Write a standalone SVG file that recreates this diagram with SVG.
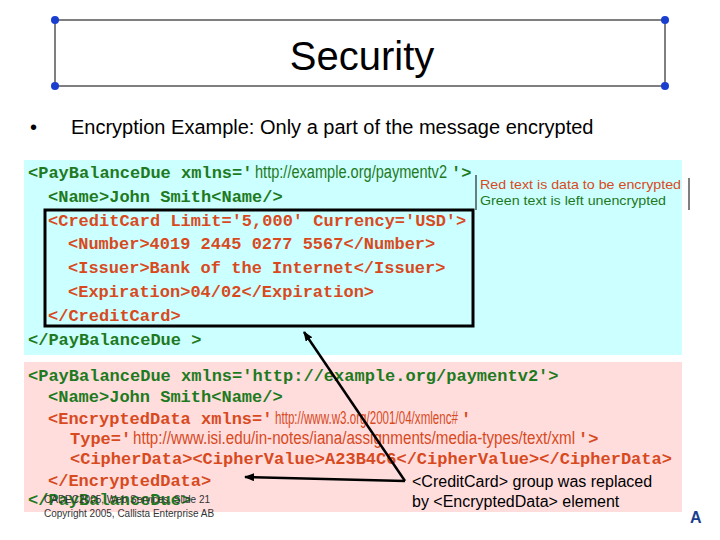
<svg xmlns="http://www.w3.org/2000/svg" width="720" height="540" viewBox="0 0 720 540">
<style>
.m{font-family:"Liberation Mono",monospace;font-weight:bold;font-size:17px}
.s{font-family:"Liberation Sans",Arial,sans-serif}
.u{font-family:"Liberation Sans",Arial,sans-serif;font-size:18px}
.g{fill:#1e7a1e}.r{fill:#d84a1e}
.dot{fill:#1a3fd0}
</style>
<defs><marker id="ah" markerWidth="10" markerHeight="8" refX="9" refY="4" orient="auto" markerUnits="userSpaceOnUse"><path d="M0,0L10,4L0,8Z" fill="#000"/></marker></defs>
<rect width="720" height="540" fill="#fff"/>
<g id="title">
<rect x="55" y="20" width="610" height="66" fill="none" stroke="#000"/>
<circle class="dot" cx="55" cy="20" r="4"/><circle class="dot" cx="665" cy="20" r="4"/>
<circle class="dot" cx="55" cy="86" r="4"/><circle class="dot" cx="665" cy="86" r="4"/>
<text x="362" y="70" text-anchor="middle" class="s" font-size="40">Security</text>
</g>
<text x="30" y="134" class="s" font-size="20">•</text>
<text x="71" y="134" class="s" font-size="20">Encryption Example: Only a part of the message encrypted</text>
<g id="plain">
<rect x="24" y="160" width="658" height="195" fill="#ccffff"/>
<text x="28" y="178" class="m g">&lt;PayBalanceDue xmlns='</text>
<text x="255" y="178" class="u g" textLength="192" lengthAdjust="spacingAndGlyphs">http://example.org/paymentv2</text>
<text x="451" y="178" class="m g">'&gt;</text>
<text x="48" y="202" class="m g">&lt;Name&gt;John Smith&lt;Name/&gt;</text>
<text x="48" y="226" class="m r">&lt;CreditCard Limit='5,000' Currency='USD'&gt;</text>
<text x="68" y="249" class="m r">&lt;Number&gt;4019 2445 0277 5567&lt;/Number&gt;</text>
<text x="68" y="273" class="m r">&lt;Issuer&gt;Bank of the Internet&lt;/Issuer&gt;</text>
<text x="68" y="297" class="m r">&lt;Expiration&gt;04/02&lt;/Expiration&gt;</text>
<text x="48" y="321" class="m r">&lt;/CreditCard&gt;</text>
<text x="28" y="345" class="m g">&lt;/PayBalanceDue &gt;</text>
<rect x="45" y="210" width="428" height="116" fill="none" stroke="#000" stroke-width="3"/>
<line x1="476" y1="175" x2="476" y2="210" stroke="#000"/>
<line x1="689" y1="178" x2="689" y2="210" stroke="#000"/>
<text x="480" y="189" class="s r" font-size="13" textLength="201" lengthAdjust="spacingAndGlyphs">Red text is data to be encrypted</text>
<text x="480" y="205" class="s g" font-size="13" textLength="186" lengthAdjust="spacingAndGlyphs">Green text is left unencrypted</text>
</g>
<g id="enc">
<rect x="24" y="362" width="658" height="150" fill="#ffdddd"/>
<text x="28" y="381" class="m g">&lt;PayBalanceDue xmlns='http://example.org/paymentv2'&gt;</text>
<text x="48" y="402" class="m g">&lt;Name&gt;John Smith&lt;Name/&gt;</text>
<text x="48" y="424" class="m r">&lt;EncryptedData xmlns='</text>
<text x="275" y="424" class="u r" textLength="183" lengthAdjust="spacingAndGlyphs">http://www.w3.org/2001/04/xmlenc#</text>
<text x="461" y="424" class="m r">'</text>
<text x="70" y="444" class="m r">Type='</text>
<text x="133" y="444" class="u r" textLength="442" lengthAdjust="spacingAndGlyphs">http://www.isi.edu/in-notes/iana/assignments/media-types/text/xml</text>
<text x="578" y="444" class="m r">'&gt;</text>
<text x="70" y="464" class="m r">&lt;CipherData&gt;&lt;CipherValue&gt;A23B4C6&lt;/CipherValue&gt;&lt;/CipherData&gt;</text>
<text x="48" y="486" class="m r">&lt;/EncryptedData&gt;</text>
<text x="28" y="505" class="m g">&lt;/PayBalanceDue&gt;</text>
<text x="44" y="503" class="s" font-size="10" fill="#333">CADEC2005, Web Services, Slide 21</text>
<text x="44" y="517" class="s" font-size="10" fill="#333">Copyright 2005, Callista Enterprise AB</text>
<text x="412" y="487" class="s" font-size="16">&lt;CreditCard&gt; group was replaced</text>
<text x="412" y="507" class="s" font-size="16">by &lt;EncryptedData&gt; element</text>
</g>
<g id="connectors" stroke="#000" stroke-width="2.5">
<line x1="405" y1="481" x2="304" y2="332" marker-end="url(#ah)"/>
<line x1="405" y1="481" x2="245" y2="477" marker-end="url(#ah)"/>
</g>
<text x="690" y="523" class="s" font-size="16" font-weight="bold" fill="#1a3f8f">A</text>
</svg>
